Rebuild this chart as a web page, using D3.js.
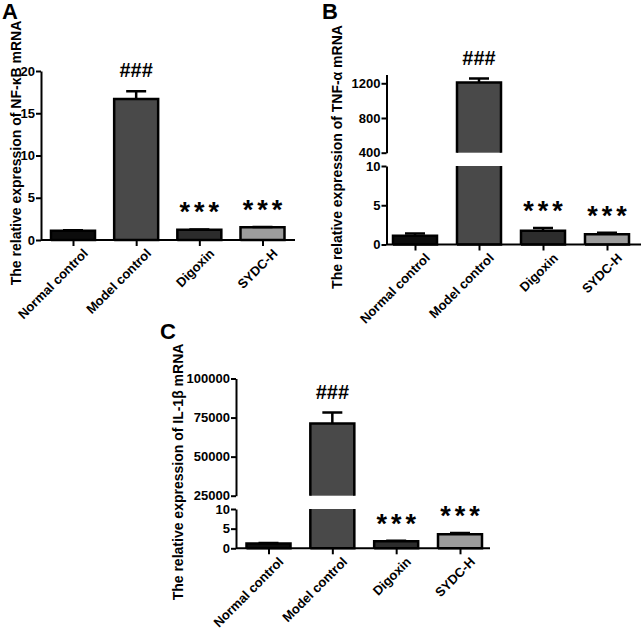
<!DOCTYPE html>
<html>
<head>
<meta charset="utf-8">
<script src="https://cdn.jsdelivr.net/npm/d3@7"></script>
<style>
  html, body { margin: 0; padding: 0; background: #fff; }
  svg { display: block; }
  text { font-family: Arial, "Liberation Sans", sans-serif; font-weight: bold; fill: #000; }
</style>
</head>
<body>
<svg id="chart" width="642" height="629"></svg>
<script>
// ---------- data ----------
const categories = ["Normal control", "Model control", "Digoxin", "SYDC-H"];
const barColors = ["#0c0c0c", "#494949", "#2c2c2c", "#9c9c9c"];
const markers = ["", "###", "***", "***"];

const nfkbMean = [1.1, 16.7, 1.2, 1.5];
const nfkbErr  = [0.05, 0.9, 0.05, 0.05];

const tnfMean = [1.1, 1210, 1.75, 1.3];
const tnfErr  = [0.3, 45, 0.35, 0.2];

const il1bMean = [1.25, 71200, 1.8, 3.6];
const il1bErr  = [0.1, 7000, 0.15, 0.3];

const nfkbTicks = [0, 5, 10, 15, 20];
const tnfLowTicks = [0, 5, 10];
const tnfHighTicks = [400, 800, 1200];
const il1bLowTicks = [0, 5, 10];
const il1bHighTicks = [25000, 50000, 75000, 100000];

// ---------- layout ----------
const panels = [
  {
    letter: "A", lx: 2, ly: 19,
    title: "The relative expression of NF-\u03BAB mRNA", tx: 21, ty: 153,
    axisX: 41, xEnd: 295, c0: 73, c1: 262.5,
    mean: nfkbMean, err: nfkbErr,
    segs: [{ domain: [0, 20], range: [240, 71], ticks: nfkbTicks }]
  },
  {
    letter: "B", lx: 322, ly: 19,
    title: "The relative expression of TNF-\u03B1 mRNA", tx: 342, ty: 157,
    axisX: 386.5, xEnd: 641, c0: 415, c1: 607,
    mean: tnfMean, err: tnfErr,
    segs: [
      { domain: [0, 10], range: [244.5, 166], ticks: tnfLowTicks },
      { domain: [400, 1300], range: [152.7, 74.6], ticks: tnfHighTicks }
    ]
  },
  {
    letter: "C", lx: 160, ly: 339,
    title: "The relative expression of IL-1\u03B2 mRNA", tx: 183, ty: 472,
    axisX: 236, xEnd: 490, c0: 268.5, c1: 460,
    mean: il1bMean, err: il1bErr,
    segs: [
      { domain: [0, 10], range: [548.3, 509], ticks: il1bLowTicks },
      { domain: [25000, 100000], range: [495.7, 378.5], ticks: il1bHighTicks }
    ]
  }
];

const svg = d3.select("#chart");
const barW = 44, capW = 20;
const FONT = "Arial, 'Liberation Sans', sans-serif";

panels.forEach(p => {
  const g = svg.append("g");
  const x = d3.scalePoint().domain(categories).range([p.c0, p.c1]);
  p.segs.forEach(s => { s.y = d3.scaleLinear().domain(s.domain).range(s.range); });
  const baseY = p.segs[0].y(0);

  // panel letter
  g.append("text").attr("x", p.lx).attr("y", p.ly).attr("font-size", 22).text(p.letter);

  // y title
  g.append("text")
    .attr("transform", `translate(${p.tx},${p.ty}) rotate(-90)`)
    .attr("text-anchor", "middle").attr("font-size", 14).text(p.title);

  // bars
  categories.forEach((c, i) => {
    const v = p.mean[i];
    const cx = x(c), xl = cx - barW / 2, xr = cx + barW / 2;
    p.segs.forEach((s, si) => {
      if (v <= s.domain[0]) return;
      const top = Math.min(v, s.domain[1]);
      const y0 = s.y(s.domain[0]), y1 = s.y(top);
      g.append("rect").attr("x", xl).attr("y", y1).attr("width", barW).attr("height", y0 - y1)
        .attr("fill", barColors[i]);
      let d = `M${xl},${y0}V${y1}`;
      if (v <= s.domain[1]) d += `H${xr}`; else d += `M${xr},${y1}`;
      d += `V${y0}`;
      if (si === 0) d += `H${xl}`;
      g.append("path").attr("d", d).attr("fill", "none").attr("stroke", "#000")
        .attr("stroke-width", 2.5).attr("stroke-linejoin", "miter");
    });
    // error bar
    const s = p.segs.find(s => v >= s.domain[0] && v <= s.domain[1]);
    const yv = s.y(v), ye = s.y(v + p.err[i]);
    g.append("path").attr("d", `M${cx},${yv}V${ye}M${cx - capW / 2},${ye}H${cx + capW / 2}`)
      .attr("stroke", "#000").attr("stroke-width", 2.5).attr("fill", "none");
    // significance marker
    if (markers[i]) {
      const isStar = markers[i][0] === "*";
      g.append("text").attr("x", cx + (isStar ? 2 : 0)).attr("y", ye - (isStar ? 8 : 14))
        .attr("text-anchor", "middle")
        .attr("font-size", isStar ? 27 : 20)
        .attr("letter-spacing", isStar ? 4 : 0)
        .text(markers[i]);
    }
  });

  // y axes (one per segment)
  p.segs.forEach(s => {
    const ax = g.append("g").attr("transform", `translate(${p.axisX},0)`)
      .call(d3.axisLeft(s.y).tickValues(s.ticks).tickFormat(d3.format("d"))
        .tickSize(5).tickSizeOuter(0).tickPadding(1));
    ax.select(".domain").attr("stroke-width", 2);
    ax.selectAll(".tick line").attr("stroke-width", 2);
    ax.selectAll("text").attr("font-size", 13).attr("font-family", FONT)
      .attr("font-weight", "bold").attr("fill", "#000");
  });

  // x axis
  const xa = g.append("g").attr("transform", `translate(0,${baseY})`)
    .call(d3.axisBottom(x).tickSize(6).tickSizeOuter(0).tickPadding(4));
  xa.select(".domain").attr("d", `M${p.axisX},0H${p.xEnd}`).attr("stroke-width", 2);
  xa.selectAll(".tick line").attr("stroke-width", 2);
  xa.selectAll("text")
    .attr("font-size", 13).attr("font-family", FONT)
    .attr("font-weight", "bold").attr("fill", "#000")
    .attr("text-anchor", "end")
    .attr("transform", "translate(5,4) rotate(-45)")
    .attr("dy", "0.35em");
});
</script>
</body>
</html>
